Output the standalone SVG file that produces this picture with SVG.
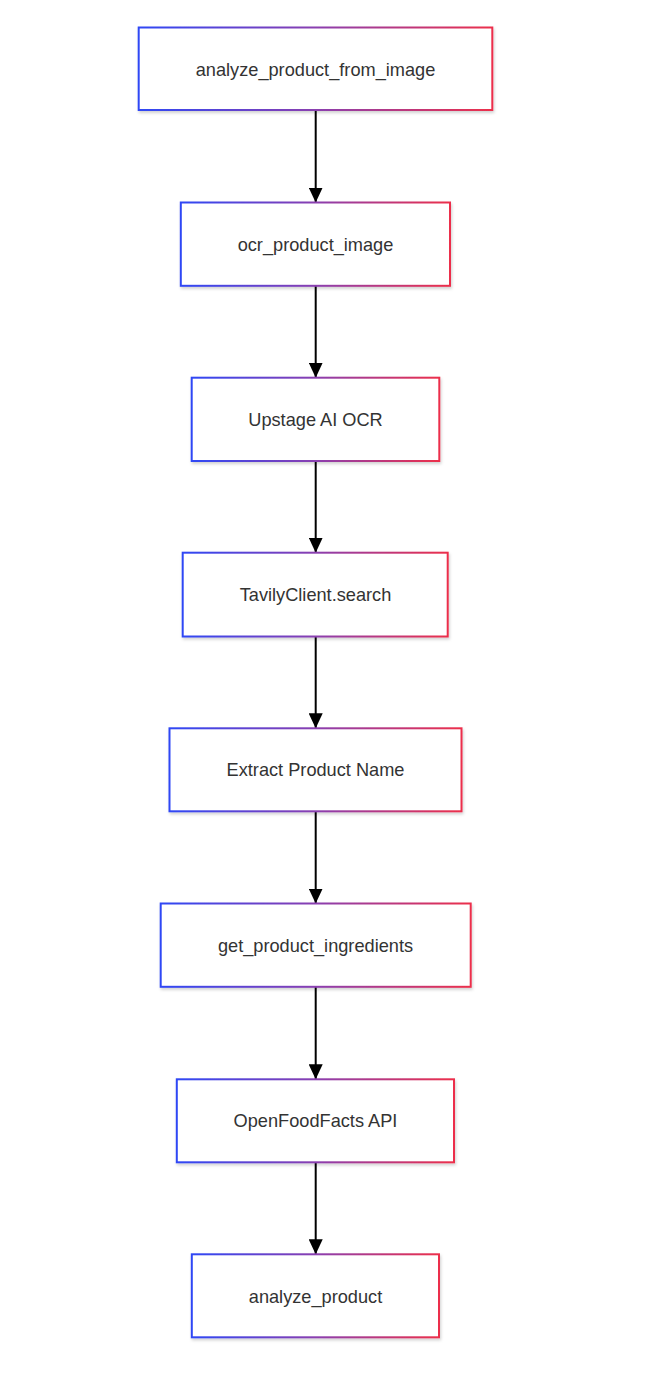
<svg xmlns="http://www.w3.org/2000/svg" width="662" height="1374" viewBox="0 0 662 1374">
<defs>
<linearGradient id="g" x1="0" y1="0" x2="1" y2="0">
<stop offset="0" stop-color="#2f47f5"/>
<stop offset="0.5" stop-color="#8a3fb0"/>
<stop offset="1" stop-color="#ec2f4b"/>
</linearGradient>
<filter id="sh" x="-10%" y="-10%" width="120%" height="130%">
<feDropShadow dx="1" dy="2" stdDeviation="1.5" flood-color="#000" flood-opacity="0.18"/>
</filter>
<marker id="ah" viewBox="0 0 15 14" refX="15" refY="7" markerWidth="15" markerHeight="14" markerUnits="userSpaceOnUse" orient="auto">
<path d="M0,0 L15,7 L0,14 Z" fill="#000"/>
</marker>
<style>
.n rect{fill:#fff;stroke:url(#g);stroke-width:2;filter:url(#sh)}
.n text{font-family:"Liberation Sans",Arial,Helvetica,sans-serif;font-size:18.2px;fill:#333;text-anchor:middle;dominant-baseline:central}
.e path{stroke:#000;stroke-width:2;fill:none;marker-end:url(#ah)}
</style>
</defs>
<g id="connectors" class="e">
<path d="M315.7,110 V202.5"/>
<path d="M315.7,286 V377.7"/>
<path d="M315.7,461 V552.7"/>
<path d="M315.7,636.5 V728.3"/>
<path d="M315.7,811.5 V903.5"/>
<path d="M315.7,987 V1079.3"/>
<path d="M315.7,1162.3 V1254.3"/>
</g>
<g id="n1" class="n"><rect x="138.7" y="27.5" width="353.6" height="82.5"/><text x="315.5" y="69.5">analyze_product_from_image</text></g>
<g id="n2" class="n"><rect x="180.8" y="202.5" width="269.2" height="83.3"/><text x="315.5" y="244.5">ocr_product_image</text></g>
<g id="n3" class="n"><rect x="191.7" y="377.7" width="247.6" height="83.3"/><text x="315.5" y="419.5">Upstage AI OCR</text></g>
<g id="n4" class="n"><rect x="182.7" y="552.7" width="265" height="83.8"/><text x="315.5" y="594.5">TavilyClient.search</text></g>
<g id="n5" class="n"><rect x="169.5" y="728.3" width="292" height="83"/><text x="315.5" y="770">Extract Product Name</text></g>
<g id="n6" class="n"><rect x="160.7" y="903.5" width="310" height="83.3"/><text x="315.5" y="945.5">get_product_ingredients</text></g>
<g id="n7" class="n"><rect x="176.8" y="1079.3" width="277.2" height="83"/><text x="315.5" y="1121">OpenFoodFacts API</text></g>
<g id="n8" class="n"><rect x="191.8" y="1254.3" width="247.2" height="83"/><text x="315.5" y="1296.5">analyze_product</text></g>
</svg>
